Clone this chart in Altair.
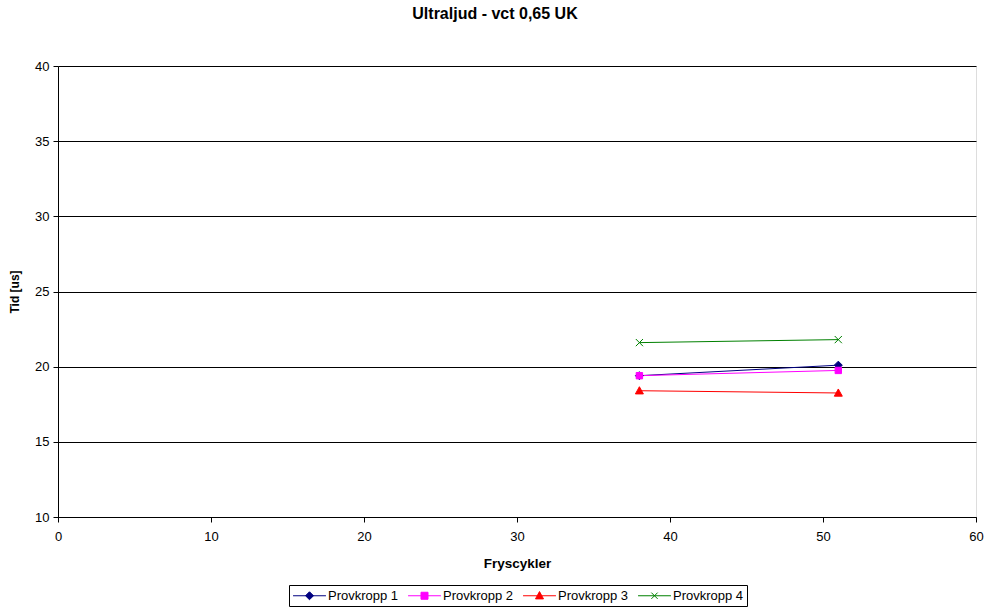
import altair as alt
import pandas as pd

# Frost-cycle ultrasound transit times per specimen
series = ["Provkropp 1", "Provkropp 2", "Provkropp 3", "Provkropp 4"]
cycles = [38, 51]
p1 = [19.4, 20.1]
p2 = [19.4, 19.75]
p3 = [18.4, 18.25]
p4 = [21.6, 21.8]

colors = ["#000080", "#FF00FF", "#FF0000", "#008000"]

rows = []
for name, vals in zip(series, [p1, p2, p3, p4]):
    for c, v in zip(cycles, vals):
        rows.append({"series": name, "cycles": c, "tid": v})
df = pd.DataFrame(rows)

# marker shapes in the plot
marker_paths = [
    "M0,-1L1,0L0,1L-1,0Z",
    "M-0.8,-0.8L0.8,-0.8L0.8,0.8L-0.8,0.8Z",
    "M0,-1L1,0.8L-1,0.8Z",
    "M-0.9,-0.9L0.9,0.9M-0.9,0.9L0.9,-0.9",
]
# legend keys: a short line with the marker on it
legend_paths = [
    "M-2.35,0L2.35,0M0,-0.57L0.57,0L0,0.57L-0.57,0Z",
    "M-2.35,0L2.35,0M-0.5,-0.5L0.5,-0.5L0.5,0.5L-0.5,0.5Z",
    "M-2.35,0L2.35,0M0,-0.6L0.57,0.45L-0.57,0.45Z",
    "M-2.35,0L2.35,0M-0.45,-0.45L0.45,0.45M-0.45,0.45L0.45,-0.45",
]

font = "Liberation Sans"

x = alt.X(
    "cycles:Q",
    scale=alt.Scale(domain=[0, 60], nice=False),
    axis=alt.Axis(
        title="Fryscykler",
        values=[0, 10, 20, 30, 40, 50, 60],
        grid=False,
        labelFlush=False,
        tickSize=5,
        tickColor="black",
        domainColor="black",
        labelFontSize=13,
        labelFont=font,
        labelColor="black",
        titleFont=font,
        titleFontSize=13.5,
        titleFontWeight="bold",
        titleColor="black",
        titlePadding=13,
        labelPadding=8,
    ),
)
y = alt.Y(
    "tid:Q",
    scale=alt.Scale(domain=[10, 40], nice=False),
    axis=alt.Axis(
        title="Tid [us]",
        values=[10, 15, 20, 25, 30, 35, 40],
        grid=True,
        labelFlush=False,
        gridColor="black",
        gridOpacity=1,
        gridWidth=1,
        tickSize=5,
        tickColor="black",
        domainColor="black",
        labelFontSize=13,
        labelFont=font,
        labelColor="black",
        titleFont=font,
        titleFontSize=12,
        titleFontWeight="bold",
        titleColor="black",
        titlePadding=13,
        labelPadding=4,
    ),
)

color_scale = alt.Scale(domain=series, range=colors)

lines = alt.Chart(df).mark_line(strokeWidth=1).encode(
    x=x,
    y=y,
    color=alt.Color("series:N", scale=color_scale, legend=None),
    detail="series:N",
)

points = alt.Chart(df).mark_point(filled=True, size=64, strokeWidth=1, opacity=1).encode(
    x=x,
    y=y,
    color=alt.Color("series:N", scale=color_scale, legend=None),
    stroke=alt.Stroke("series:N", scale=color_scale, legend=None),
    shape=alt.Shape("series:N", scale=alt.Scale(domain=series, range=marker_paths), legend=None),
)

# legend-only layer (no marks drawn)
legend_layer = alt.Chart(df).transform_filter("false").mark_point(
    filled=True, strokeWidth=1, size=196, opacity=1
).encode(
    x=x,
    y=y,
    color=alt.Color(
        "series:N",
        scale=color_scale,
        legend=alt.Legend(
            title=None,
            orient="none",
            legendX=231,
            legendY=519,
            direction="horizontal",
            columns=4,
            symbolSize=196,
            symbolStrokeWidth=1,
            symbolOpacity=1,
            symbolOffset=10,
            labelFont=font,
            labelFontSize=13,
            labelColor="black",
            labelOffset=11,
            columnPadding=7,
            padding=3,
            strokeColor="black",
            fillColor="white",
        ),
    ),
    stroke=alt.Stroke("series:N", scale=color_scale),
    shape=alt.Shape("series:N", scale=alt.Scale(domain=series, range=legend_paths)),
)

chart = (
    alt.layer(lines, points, legend_layer)
    .resolve_scale(shape="independent", color="independent", stroke="independent")
    .properties(
        width=918,
        height=451,
        padding={"left": 58, "top": 66, "right": 11, "bottom": 90},
        autosize=alt.AutoSizeParams(type="none"),
        title=alt.TitleParams(
            "Ultraljud - vct 0,65 UK",
            font=font,
            fontSize=16,
            fontWeight="bold",
            color="black",
            offset=38,
            dx=-22,
        ),
    )
    .configure_view(stroke="#808080", strokeWidth=1)
    .configure(background="white")
)

chart.save("out.html", embed_options={"renderer": "svg", "actions": False})
